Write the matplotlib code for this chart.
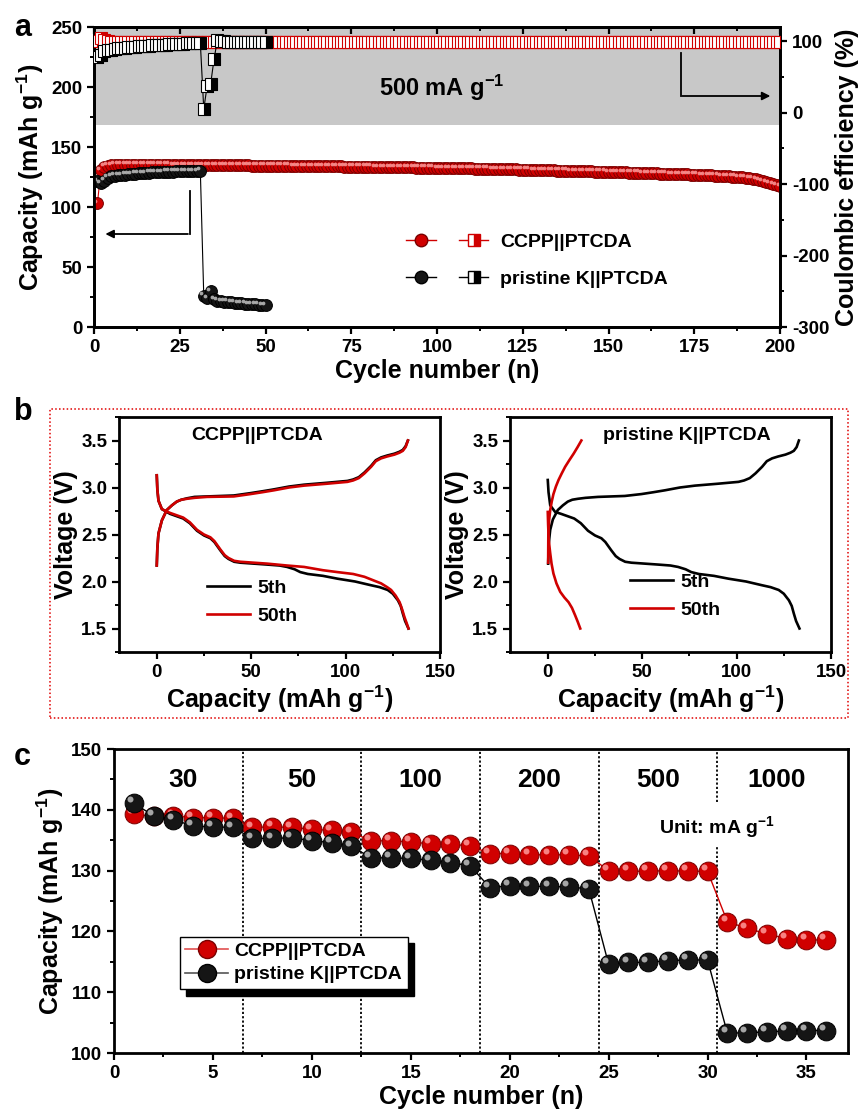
import matplotlib
matplotlib.use('Agg')
import matplotlib.pyplot as plt
import matplotlib.transforms as mtransforms
from matplotlib.patches import Rectangle
from matplotlib.legend_handler import HandlerTuple
from matplotlib.lines import Line2D
from matplotlib.ticker import MultipleLocator

# ---------------- data ----------------
# panel a : cycling at 500 mA g-1
ccpp_capacity = [
    103.0, 130.5, 133.5, 134.5, 135.0, 135.2, 135.3, 135.3, 135.4, 135.4,
    135.4, 135.4, 135.4, 135.4, 135.3, 135.3, 135.3, 135.3, 135.2, 135.2,
    135.2, 135.2, 135.1, 135.1, 135.1, 135.0, 135.0, 135.0, 135.0, 134.9,
    134.9, 134.9, 134.9, 134.8, 134.8, 134.8, 134.8, 134.7, 134.7, 134.7,
    134.7, 134.6, 134.6, 134.6, 134.6, 134.5, 134.5, 134.5, 134.5, 134.4,
    134.4, 134.4, 134.4, 134.3, 134.3, 134.3, 134.3, 134.2, 134.2, 134.2,
    134.1, 134.1, 134.1, 134.0, 134.0, 134.0, 133.9, 133.9, 133.9, 133.8,
    133.8, 133.8, 133.7, 133.7, 133.7, 133.6, 133.6, 133.6, 133.5, 133.5,
    133.5, 133.4, 133.4, 133.3, 133.3, 133.3, 133.2, 133.2, 133.1, 133.1,
    133.1, 133.0, 133.0, 132.9, 132.9, 132.8, 132.8, 132.7, 132.7, 132.6,
    132.6, 132.5, 132.5, 132.4, 132.4, 132.3, 132.3, 132.2, 132.2, 132.1,
    132.0, 132.0, 131.9, 131.9, 131.8, 131.7, 131.7, 131.6, 131.5, 131.5,
    131.4, 131.3, 131.3, 131.2, 131.1, 131.1, 131.0, 130.9, 130.8, 130.8,
    130.7, 130.6, 130.5, 130.5, 130.4, 130.3, 130.2, 130.2, 130.1, 130.0,
    129.9, 129.9, 129.8, 129.7, 129.6, 129.5, 129.5, 129.4, 129.3, 129.2,
    129.1, 129.1, 129.0, 128.9, 128.8, 128.7, 128.6, 128.6, 128.5, 128.4,
    128.3, 128.2, 128.1, 128.0, 127.9, 127.8, 127.7, 127.6, 127.5, 127.4,
    127.3, 127.2, 127.1, 127.0, 126.9, 126.8, 126.7, 126.6, 126.5, 126.4,
    126.2, 126.1, 125.9, 125.8, 125.6, 125.4, 125.2, 125.0, 124.7, 124.4,
    124.0, 123.5, 123.0, 122.4, 121.7, 120.9, 120.1, 119.2, 118.2, 117.2,
]
ccpp_ce = [
    100.5, 104.0, 101.5, 99.8, 99.7, 99.6, 99.7, 99.6, 99.6, 99.7,
    99.6, 99.6, 99.7, 99.6, 99.6, 99.7, 99.6, 99.6, 99.6, 99.7,
    99.6, 99.6, 99.7, 99.6, 99.6, 99.6, 99.7, 99.6, 99.6, 99.6,
    99.7, 99.6, 99.6, 99.6, 99.7, 99.6, 99.6, 99.6, 99.7, 99.6,
    99.6, 99.6, 99.7, 99.6, 99.6, 99.6, 99.7, 99.6, 99.6, 99.6,
    99.7, 99.6, 99.6, 99.6, 99.7, 99.6, 99.6, 99.6, 99.7, 99.6,
    99.6, 99.6, 99.7, 99.6, 99.6, 99.6, 99.7, 99.6, 99.6, 99.6,
    99.7, 99.6, 99.6, 99.6, 99.7, 99.6, 99.6, 99.6, 99.7, 99.6,
    99.6, 99.6, 99.7, 99.6, 99.6, 99.6, 99.7, 99.6, 99.6, 99.6,
    99.7, 99.6, 99.6, 99.6, 99.7, 99.6, 99.6, 99.6, 99.7, 99.6,
    99.6, 99.6, 99.7, 99.6, 99.6, 99.6, 99.7, 99.6, 99.6, 99.6,
    99.7, 99.6, 99.6, 99.6, 99.7, 99.6, 99.6, 99.6, 99.7, 99.6,
    99.6, 99.6, 99.7, 99.6, 99.6, 99.6, 99.7, 99.6, 99.6, 99.6,
    99.7, 99.6, 99.6, 99.6, 99.7, 99.6, 99.6, 99.6, 99.7, 99.6,
    99.6, 99.6, 99.7, 99.6, 99.6, 99.6, 99.7, 99.6, 99.6, 99.6,
    99.7, 99.6, 99.6, 99.6, 99.7, 99.6, 99.6, 99.6, 99.7, 99.6,
    99.6, 99.6, 99.7, 99.6, 99.6, 99.6, 99.7, 99.6, 99.6, 99.6,
    99.7, 99.6, 99.6, 99.6, 99.7, 99.6, 99.6, 99.6, 99.7, 99.6,
    99.6, 99.6, 99.7, 99.6, 99.6, 99.6, 99.7, 99.6, 99.6, 99.6,
    99.7, 99.6, 99.6, 99.6, 99.7, 99.6, 99.6, 99.6, 99.7, 99.6,
]
pristine_capacity = [
    121.5, 120.0, 122.0, 124.5, 125.5, 126.0, 126.3, 126.6, 126.9, 127.2,
    127.5, 127.8, 128.0, 128.2, 128.4, 128.6, 128.8, 129.0, 129.1, 129.2,
    129.3, 129.4, 129.5, 129.6, 129.7, 129.8, 129.9, 130.0, 130.0, 130.1,
    130.2, 26.0, 24.0, 30.0, 23.0, 22.0, 21.5, 21.2, 21.0, 20.6,
    20.3, 20.0, 19.8, 19.5, 19.2, 19.0, 18.8, 18.5, 18.3, 18.0,
]
pristine_ce = [
    77.5, 80.5, 86.0, 87.5, 88.5, 89.5, 90.0, 90.5, 91.0, 91.5,
    92.0, 92.5, 93.0, 93.5, 93.8, 94.0, 94.3, 94.6, 94.9, 95.2,
    95.5, 95.8, 96.0, 96.3, 96.5, 96.8, 97.0, 97.2, 97.4, 97.6,
    97.8, 5.0, 38.0, 40.0, 75.0, 102.5, 100.5, 99.8, 99.5, 99.3,
    99.2, 99.1, 99.0, 99.0, 98.9, 98.9, 98.8, 98.8, 98.8, 98.7,
]
ccpp_cycles = list(range(1, len(ccpp_capacity) + 1))
pristine_cycles = list(range(1, len(pristine_capacity) + 1))

# panel b : charge / discharge profiles (capacity mAh g-1, voltage V)
ccpp_5th_dis_cap = [0, 0.3, 0.9, 2.7, 7, 14, 17.5, 21.3, 25, 28.4, 30.5, 33.7, 36, 38, 41, 44.3, 58.5, 65, 69, 73, 76,
                    80, 88, 95.7, 105, 113.5, 118, 122.3, 125, 127.7, 129.2, 130.3, 131.5, 133.3]
ccpp_5th_dis_v = [3.13, 2.98, 2.86, 2.77, 2.72, 2.67, 2.62, 2.54, 2.49, 2.46, 2.42, 2.33, 2.27, 2.24, 2.21, 2.20, 2.18, 2.17,
                  2.155, 2.13, 2.10, 2.08, 2.06, 2.03, 2.00, 1.96, 1.94, 1.91, 1.87, 1.80, 1.74, 1.66, 1.58, 1.50]
ccpp_50th_dis_cap = [0, 0.3, 0.9, 2.7, 7, 14, 17.5, 21.3, 25, 28.4, 30.5, 33.7, 36, 38, 41, 44.3, 58.5, 69, 78, 88,
                     95.7, 104, 110, 115, 118.8, 122, 124.1, 126.5, 128.6, 130, 131.2, 132.3, 133.3]
ccpp_50th_dis_v = [3.13, 2.98, 2.86, 2.77, 2.73, 2.68, 2.63, 2.55, 2.50, 2.47, 2.43, 2.34, 2.28, 2.25, 2.22, 2.21, 2.19,
                   2.17, 2.155, 2.12, 2.10, 2.08, 2.05, 2.01, 1.98, 1.94, 1.91, 1.85, 1.78, 1.70, 1.62, 1.56, 1.50]
ccpp_5th_chg_cap = [0, 0.3, 0.9, 2.7, 5.3, 8, 10.6, 13, 16, 20, 26.6, 40.8, 49.6, 56, 62, 70, 78, 90, 101, 104, 107,
                    110, 113.5, 116, 118.8, 122, 125.9, 128.5, 130.3, 131.8, 133]
ccpp_5th_chg_v = [2.17, 2.35, 2.51, 2.65, 2.76, 2.81, 2.85, 2.87, 2.885, 2.90, 2.905, 2.915, 2.94, 2.96, 2.98, 3.01,
                  3.03, 3.05, 3.07, 3.085, 3.11, 3.16, 3.23, 3.29, 3.32, 3.34, 3.36, 3.38, 3.40, 3.44, 3.50]
ccpp_50th_chg_cap = [0, 0.3, 0.9, 2.7, 5.3, 8, 10.6, 13, 16, 20, 26.6, 40.8, 49.6, 56, 62, 70, 78, 90, 101, 104, 107,
                     110, 113.5, 116, 118.8, 122, 125.9, 128.5, 130.3, 131.8, 133]
ccpp_50th_chg_v = [2.17, 2.35, 2.51, 2.65, 2.76, 2.81, 2.85, 2.87, 2.88, 2.89, 2.90, 2.905, 2.93, 2.95, 2.97, 3.00,
                   3.02, 3.04, 3.06, 3.075, 3.10, 3.15, 3.22, 3.28, 3.31, 3.33, 3.35, 3.37, 3.39, 3.43, 3.50]

pri_5th_dis_cap = [0, 0.4, 1.3, 3.9, 7, 14, 17.5, 21.3, 25, 28.4, 30.5, 33.7, 36, 38, 41, 44.3, 58.5, 65, 69, 73, 76,
                   80, 88, 95.7, 105, 113.5, 118, 122.3, 125, 127.7, 129.2, 130.3, 131.5, 133.3]
pri_5th_dis_v = [3.08, 2.95, 2.81, 2.74, 2.72, 2.67, 2.62, 2.54, 2.49, 2.46, 2.42, 2.33, 2.27, 2.24, 2.21, 2.20, 2.18,
                 2.17, 2.155, 2.13, 2.10, 2.08, 2.06, 2.03, 2.00, 1.96, 1.94, 1.91, 1.87, 1.80, 1.74, 1.66, 1.58, 1.50]
pri_5th_chg_cap = [0.2, 0.5, 1.3, 2.7, 5.3, 8, 10.6, 13, 16, 20, 26.6, 40.8, 49.6, 56, 62, 70, 78, 90, 101, 104, 107,
                   110, 113.5, 116, 118.8, 122, 125.9, 128.5, 130.3, 131.8, 133]
pri_5th_chg_v = [2.19, 2.40, 2.55, 2.66, 2.76, 2.81, 2.85, 2.87, 2.88, 2.89, 2.90, 2.91, 2.93, 2.95, 2.97, 3.00,
                 3.02, 3.04, 3.06, 3.075, 3.10, 3.15, 3.22, 3.28, 3.31, 3.33, 3.35, 3.37, 3.39, 3.43, 3.50]
pri_50th_chg_cap = [0.2, 0.3, 0.7, 1.3, 2.1, 3.0, 4.3, 5.7, 7.4, 9.2, 11.4, 13.7, 15.8, 17.8]
pri_50th_chg_v = [2.20, 2.50, 2.65, 2.76, 2.85, 2.93, 3.01, 3.08, 3.15, 3.22, 3.29, 3.36, 3.43, 3.50]
pri_50th_dis_cap = [0, 0.2, 0.5, 0.9, 1.3, 2.0, 3.0, 4.6, 6.6, 8.8, 11.0, 12.8, 14.5, 15.9, 17.2]
pri_50th_dis_v = [2.74, 2.60, 2.45, 2.37, 2.30, 2.19, 2.085, 1.98, 1.89, 1.83, 1.78, 1.72, 1.64, 1.57, 1.50]

# panel c : rate capability
rate_cycles = list(range(1, 37))
rate_ccpp = [139.3, 138.9, 139.0, 138.7, 138.7, 138.6,
             137.1, 137.2, 137.1, 136.8, 136.6, 136.3,
             134.9, 134.9, 134.7, 134.4, 134.3, 134.1,
             132.8, 132.8, 132.6, 132.6, 132.6, 132.4,
             130.0, 129.9, 129.9, 130.0, 129.9, 129.9,
             121.6, 120.5, 119.6, 118.8, 118.6, 118.6]
rate_pristine = [141.1, 139.0, 138.4, 137.3, 137.2, 137.1,
                 135.3, 135.3, 135.4, 134.9, 134.6, 134.0,
                 132.1, 132.1, 132.0, 131.7, 131.3, 130.8,
                 127.2, 127.5, 127.4, 127.4, 127.3, 127.0,
                 114.6, 114.9, 114.9, 115.2, 115.3, 115.3,
                 103.3, 103.3, 103.5, 103.6, 103.7, 103.7]
rate_labels = ['30', '50', '100', '200', '500', '1000']
rate_boundaries = [6.5, 12.5, 18.5, 24.5, 30.5]

# ---------------- style ----------------
plt.rcParams.update({
    'font.family': ['Liberation Sans', 'DejaVu Sans'],
    'font.weight': 'bold',
    'axes.labelweight': 'bold',
    'axes.unicode_minus': False,
    'mathtext.fontset': 'custom',
    'mathtext.rm': 'Liberation Sans:bold',
    'mathtext.bf': 'Liberation Sans:bold',
    'mathtext.it': 'Liberation Sans:bold',
    'mathtext.default': 'bf',
    'axes.linewidth': 2.0,
    'xtick.major.width': 1.6, 'ytick.major.width': 1.6,
    'xtick.minor.width': 1.4, 'ytick.minor.width': 1.4,
    'xtick.major.size': 5, 'ytick.major.size': 5,
    'xtick.minor.size': 3, 'ytick.minor.size': 3,
})

RED = '#D00000'
DKRED = '#7a0000'
W, H = 867, 1117
fig = plt.figure(figsize=(W / 100, H / 100), dpi=100)


def fax(x0, y0, x1, y1):
    return fig.add_axes([x0 / W, 1 - y1 / H, (x1 - x0) / W, (y1 - y0) / H])


def balls(ax, x, y, color, edge, light, ms, z, line_color=None, lw=0.8):
    ax.plot(x, y, '-', color=line_color or color, lw=lw, zorder=z - 0.5)
    ax.plot(x, y, 'o', ms=ms, mfc=color, mec=edge, mew=0.7, ls='none', zorder=z)
    off = mtransforms.offset_copy(ax.transData, fig=fig, x=-ms * 0.2, y=ms * 0.2, units='points')
    ax.plot(x, y, 'o', ms=ms * 0.32, mfc=light, mec='none', ls='none', alpha=0.85,
            transform=off, zorder=z + 0.1)


# ================= panel a =================
axA = fax(94, 27, 780, 327)
axA.axhspan(168, 250, color='#c8c8c8', lw=0, zorder=0)
axA.set_xlim(0, 200)
axA.set_ylim(0, 250)
balls(axA, ccpp_cycles, ccpp_capacity, RED, DKRED, '#ff9a9a', 8.5, 3)
balls(axA, pristine_cycles, pristine_capacity, '#151515', '#000000', '#c0c0c0', 8.5, 4, line_color='black')
axA.xaxis.set_major_locator(MultipleLocator(25))
axA.xaxis.set_minor_locator(MultipleLocator(12.5))
axA.yaxis.set_major_locator(MultipleLocator(50))
axA.yaxis.set_minor_locator(MultipleLocator(25))
axA.tick_params(which='both', direction='out', labelsize=13.5)
axA.set_xlabel('Cycle number (n)', fontsize=18, labelpad=2)
axA.set_ylabel('Capacity (mAh g$^{-1}$)', fontsize=18, labelpad=4)
top = axA.secondary_xaxis('top')
top.xaxis.set_major_locator(MultipleLocator(25))
top.xaxis.set_minor_locator(MultipleLocator(12.5))
top.tick_params(which='both', direction='in', labeltop=False)

ax2 = axA.twinx()
ax2.set_ylim(-300, 120)
ax2.plot(ccpp_cycles, ccpp_ce, '-', color=RED, lw=0.8, marker='s', ms=8,
         fillstyle='right', mfc=RED, mfcalt='white', mec=RED, mew=0.8, zorder=3)
ax2.plot(pristine_cycles, pristine_ce, '-', color='black', lw=0.8, marker='s', ms=8,
         fillstyle='right', mfc='black', mfcalt='white', mec='black', mew=0.8, zorder=4)
ax2.yaxis.set_major_locator(MultipleLocator(100))
ax2.yaxis.set_minor_locator(MultipleLocator(50))
ax2.tick_params(which='both', direction='out', labelsize=13.5)
ax2.set_ylabel('Coulombic efficiency (%)', fontsize=18, labelpad=4)

axA.text(101.5, 199, '500 mA g$^{-1}$', ha='center', va='center', fontsize=17, zorder=6)
# arrows
axA.plot([27.9, 27.9], [113.6, 77.5], color='black', lw=1.3, zorder=6)
axA.annotate('', xy=(2.5, 77.5), xytext=(28.2, 77.5),
             arrowprops=dict(arrowstyle='-|>', color='black', lw=1.3, mutation_scale=12), zorder=6)
ax2.plot([171, 171], [84, 23.4], color='black', lw=1.3, zorder=6)
ax2.annotate('', xy=(198, 23.4), xytext=(170.7, 23.4),
             arrowprops=dict(arrowstyle='-|>', color='black', lw=1.3, mutation_scale=12), zorder=6)

hA1 = (Line2D([], [], color=RED, lw=1, marker='o', ms=9, mfc=RED, mec=DKRED),
       Line2D([], [], color=RED, lw=1, marker='s', ms=8, fillstyle='right', mfc=RED, mfcalt='white', mec=RED))
hA2 = (Line2D([], [], color='black', lw=1, marker='o', ms=9, mfc='#151515', mec='black'),
       Line2D([], [], color='black', lw=1, marker='s', ms=8, fillstyle='right', mfc='black', mfcalt='white', mec='black'))
ax2.legend([hA1, hA2], ['CCPP||PTCDA', 'pristine K||PTCDA'],
           handler_map={tuple: HandlerTuple(ndivide=None, pad=1.2)},
           frameon=False, fontsize=14, handlelength=4.2, labelspacing=1.0,
           loc='upper left', bbox_to_anchor=(0.43, 0.37), handletextpad=0.6)

fig.text(14 / W, 1 - 28 / H, 'a', fontsize=22, fontweight='bold', va='center', ha='left')

# ================= panel b =================
fig.add_artist(Rectangle((50 / W, 1 - 718 / H), 798 / W, 309 / H, transform=fig.transFigure,
                         fill=False, ec='#e00000', ls=(0, (1, 1.5)), lw=1.1))
fig.text(14 / W, 1 - 412 / H, 'b', fontsize=22, fontweight='bold', va='center', ha='left')

axB1 = fax(119, 417, 440, 652)
axB2 = fax(510, 417, 831, 652)
axB1.plot(ccpp_5th_dis_cap, ccpp_5th_dis_v, color='black', lw=1.9, label='5th')
axB1.plot(ccpp_5th_chg_cap, ccpp_5th_chg_v, color='black', lw=1.9)
axB1.plot(ccpp_50th_dis_cap, ccpp_50th_dis_v, color=RED, lw=1.9, label='50th')
axB1.plot(ccpp_50th_chg_cap, ccpp_50th_chg_v, color=RED, lw=1.9)
axB2.plot(pri_5th_dis_cap, pri_5th_dis_v, color='black', lw=1.9, label='5th')
axB2.plot(pri_5th_chg_cap, pri_5th_chg_v, color='black', lw=1.9)
axB2.plot(pri_50th_dis_cap, pri_50th_dis_v, color=RED, lw=1.9, label='50th')
axB2.plot(pri_50th_chg_cap, pri_50th_chg_v, color=RED, lw=1.9)

for ax, title, tx, lg in ((axB1, 'CCPP||PTCDA', 53, (0.22, 0.04)),
                          (axB2, 'pristine K||PTCDA', 73.6, (0.32, 0.065))):
    ax.set_xlim(-20, 150)
    ax.set_ylim(1.25, 3.75)
    ax.xaxis.set_major_locator(MultipleLocator(50))
    ax.xaxis.set_minor_locator(MultipleLocator(25))
    ax.yaxis.set_major_locator(MultipleLocator(0.5))
    ax.yaxis.set_minor_locator(MultipleLocator(0.25))
    ax.tick_params(which='both', direction='out', labelsize=13.5)
    ax.set_xlabel('Capacity (mAh g$^{-1}$)', fontsize=18, labelpad=2)
    ax.set_ylabel('Voltage (V)', fontsize=18, labelpad=2)
    ax.text(tx, 3.55, title, ha='center', va='center', fontsize=14)
    ax.legend(frameon=False, fontsize=14, handlelength=2.2, loc='lower left',
              bbox_to_anchor=lg, labelspacing=0.55, handletextpad=0.4)

# ================= panel c =================
axC = fax(114, 749, 848, 1053)
axC.set_xlim(0, 37.1)
axC.set_ylim(100, 150)
balls(axC, rate_cycles, rate_ccpp, RED, DKRED, '#ff9a9a', 13.5, 3, lw=1.0)
balls(axC, rate_cycles, rate_pristine, '#151515', '#000000', '#c0c0c0', 13.5, 4, line_color='black', lw=1.0)
for i, b in enumerate(rate_boundaries):
    if i == len(rate_boundaries) - 1:
        axC.axvline(b, ymin=0, ymax=0.684, color='black', ls=(0, (1.2, 1.2)), lw=1.3, zorder=1)
        axC.axvline(b, ymin=0.826, ymax=1, color='black', ls=(0, (1.2, 1.2)), lw=1.3, zorder=1)
    else:
        axC.axvline(b, color='black', ls=(0, (1.2, 1.2)), lw=1.3, zorder=1)
edges = [0.5] + rate_boundaries + [36.5]
for lab, a, b in zip(rate_labels, edges[:-1], edges[1:]):
    axC.text((a + b) / 2, 144.9, lab, ha='center', va='center', fontsize=19)
axC.text(30.5, 137.1, 'Unit: mA g$^{-1}$', ha='center', va='center', fontsize=14)
axC.xaxis.set_major_locator(MultipleLocator(5))
axC.xaxis.set_minor_locator(MultipleLocator(2.5))
axC.yaxis.set_major_locator(MultipleLocator(10))
axC.yaxis.set_minor_locator(MultipleLocator(5))
axC.tick_params(which='both', direction='out', labelsize=13.5)
axC.set_xlabel('Cycle number (n)', fontsize=18, labelpad=2)
axC.set_ylabel('Capacity (mAh g$^{-1}$)', fontsize=18, labelpad=4)

hC1 = Line2D([], [], color='#e05050', lw=1.2, marker='o', ms=13, mfc=RED, mec=DKRED)
hC2 = Line2D([], [], color='#555555', lw=1.2, marker='o', ms=13, mfc='#151515', mec='black')
legC = axC.legend([hC1, hC2], ['CCPP||PTCDA', 'pristine K||PTCDA'], fontsize=14,
                  loc='upper left', bbox_to_anchor=(0.076, 0.415), fancybox=False,
                  edgecolor='black', framealpha=1, handlelength=2.2, handletextpad=0.3,
                  labelspacing=0.3, borderpad=0.3,
                  shadow={'ox': 4.5, 'oy': -4.5, 'facecolor': 'black', 'edgecolor': 'black', 'alpha': 1})
legC.get_frame().set_linewidth(1.0)
fig.text(14 / W, 1 - 757 / H, 'c', fontsize=22, fontweight='bold', va='center', ha='left')

fig.savefig('out.png', dpi=100)
